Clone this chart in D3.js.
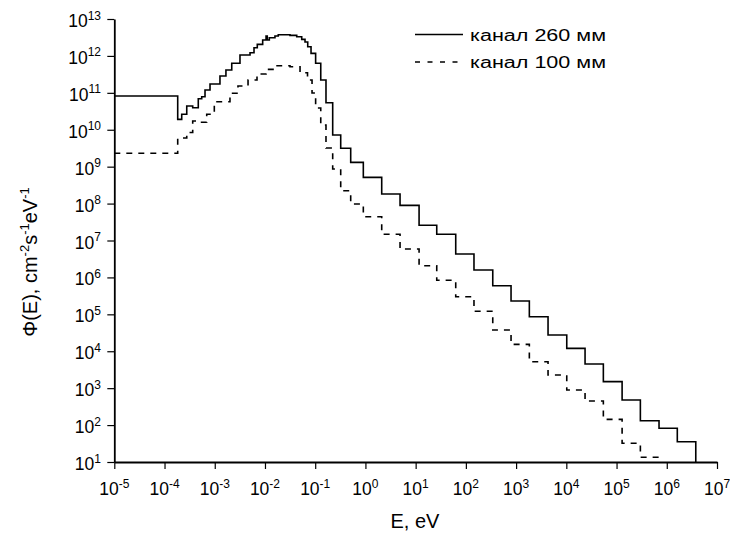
<!DOCTYPE html>
<html>
<head>
<meta charset="utf-8">
<script src="https://cdn.jsdelivr.net/npm/d3@7"></script>
<style>
  body { margin: 0; background: #fff; }
  svg  { display: block; font-family: "Liberation Sans", Arial, sans-serif; }
</style>
</head>
<body>
<svg id="chart" width="730" height="533"></svg>
<script>
/* ──────────────────────────────────────────────────────────────
 * DONNÉES — spectres par groupes (bornes en eV, flux par groupe)
 * ────────────────────────────────────────────────────────────── */
var EDGES_260 = [1e-5, 1.83e-4, 2.2e-4, 2.77e-4, 3.64e-4, 4.7e-4, 5.5e-4, 6.4e-4, 8.05e-4,
  1.27e-3, 1.67e-3, 2.18e-3, 3.18e-3, 5.04e-3, 6.05e-3, 7.03e-3, 9.0e-3, 1.05e-2, 1.11e-2,
  1.22e-2, 1.58e-2, 1.84e-2, 3.15e-2, 4.29e-2, 5.39e-2, 6.27e-2, 7.1e-2, 8.26e-2, 0.102,
  0.129, 0.164, 0.223, 0.322, 0.509, 0.908, 2.11, 4.89, 11.7, 26.3, 62.8, 145, 343, 793,
  1835, 4325, 1.02e4, 2.36e4, 5.46e4, 1.29e5, 2.98e5, 7.01e5, 1.62e6, 3.78e6];
var FLUX_260 = [8.2e10, 1.91e10, 2.62e10, 4.39e10, 3.95e10, 6.92e10, 7.84e10, 1.19e11,
  1.73e11, 2.85e11, 4.15e11, 6.3e11, 1.06e12, 1.22e12, 1.67e12, 2.06e12, 2.69e12, 3.45e12,
  2.69e12, 3.1e12, 3.45e12, 3.75e12, 3.61e12, 3.31e12, 2.81e12, 2.38e12, 1.77e12, 1.17e12,
  6.3e11, 2.22e11, 5.39e10, 7.2e9, 3.14e9, 1.31e9, 5.14e8, 1.82e8, 8.97e7, 2.58e7, 1.47e7,
  4.3e6, 1.59e6, 5.96e5, 2.3e5, 8.62e4, 2.75e4, 1.2e4, 4.51e3, 1.5e3, 478, 131, 81.8, 35.4];

var EDGES_100 = [1e-5, 1.83e-4, 2.77e-4, 3.64e-4, 5.09e-4, 6.92e-4, 9.8e-4, 2.01e-3, 2.9e-3,
  4.6e-3, 6.94e-3, 1.05e-2, 1.74e-2, 3.15e-2, 4.99e-2, 7.03e-2, 8.65e-2, 0.102, 0.129,
  0.164, 0.223, 0.322, 0.509, 0.908, 2.11, 4.89, 11.7, 26.3, 62.8, 145, 343, 793, 1835,
  4325, 1.02e4, 2.36e4, 5.46e4, 1.29e5, 2.98e5, 7.01e5];
var FLUX_100 = [2.3e9, 5.97e9, 8.4e9, 1.72e10, 1.59e10, 2.62e10, 5.74e10, 9.7e10, 1.53e11,
  2.22e11, 3.23e11, 4.33e11, 5.42e11, 5.09e11, 3.5e11, 2.22e11, 9.88e10, 3.87e10, 1.34e10,
  3.2e9, 8.63e8, 2.23e8, 9.73e7, 4.41e7, 1.47e7, 5.88e6, 2.07e6, 8.35e5, 3.0e5, 1.21e5,
  3.76e4, 1.54e4, 5.21e3, 2.27e3, 891, 449, 143, 32.1, 13.4];

var SERIES_NAMES = ['канал 260 мм', 'канал 100 мм'];
var X_EXPONENTS  = [-5, -4, -3, -2, -1, 0, 1, 2, 3, 4, 5, 6, 7];
var Y_EXPONENTS  = [1, 2, 3, 4, 5, 6, 7, 8, 9, 10, 11, 12, 13];
var X_TITLE      = 'E, eV';

(function () {
  'use strict';

  var svg = d3.select('#chart');
  svg.append('rect').attr('width', 730).attr('height', 533).attr('fill', '#fff');

  var x = d3.scaleLog().domain([1e-5, 1e7]).range([114.3, 717]);
  var y = d3.scaleLog().domain([10, 1e13]).range([462, 19]);

  /* ──────────────────────────────────────────────────────────────
   * AXES (graduations majeures + mineures, vers l'extérieur)
   * ────────────────────────────────────────────────────────────── */
  function pow10(e) { return Math.pow(10, e); }

  function minors(exps) {
    var out = [];
    exps.slice(0, -1).forEach(function (e) {
      for (var m = 2; m <= 9; m++) out.push(m * pow10(e));
    });
    return out;
  }

  var gx = svg.append('g').attr('transform', 'translate(0,462)');
  gx.call(d3.axisBottom(x).tickValues(minors(X_EXPONENTS)).tickSize(4).tickSizeOuter(0).tickFormat(''));
  gx.call(d3.axisBottom(x).tickValues(X_EXPONENTS.map(pow10)).tickSize(7).tickSizeOuter(0).tickFormat(''));

  var gy = svg.append('g').attr('transform', 'translate(114.3,0)');
  gy.call(d3.axisLeft(y).tickValues(minors(Y_EXPONENTS)).tickSize(4).tickSizeOuter(0).tickFormat(''));
  gy.call(d3.axisLeft(y).tickValues(Y_EXPONENTS.map(pow10)).tickSize(7).tickSizeOuter(0).tickFormat(''));

  svg.selectAll('.domain').attr('stroke', '#000').attr('stroke-width', 1.8);
  svg.selectAll('.tick line').attr('stroke', '#000').attr('stroke-width', 1.2);

  /* libellés 10^n */
  function powerLabel(sel, e) {
    sel.append('tspan').text('10');
    sel.append('tspan').attr('dy', -7.5).attr('font-size', 12).text(e);
  }

  X_EXPONENTS.forEach(function (e) {
    var t = svg.append('text')
      .attr('x', x(pow10(e))).attr('y', 495)
      .attr('text-anchor', 'middle').attr('font-size', 17.5);
    powerLabel(t, e);
  });

  Y_EXPONENTS.forEach(function (e) {
    var t = svg.append('text')
      .attr('x', 101).attr('y', y(pow10(e)) + 8)
      .attr('text-anchor', 'end').attr('font-size', 17.5);
    powerLabel(t, e);
  });

  /* titres */
  svg.append('text')
    .attr('x', 415).attr('y', 528)
    .attr('text-anchor', 'middle').attr('font-size', 20)
    .text(X_TITLE);

  var yt = svg.append('text')
    .attr('transform', 'translate(37,262) rotate(-90)')
    .attr('text-anchor', 'middle').attr('font-size', 20);
  [['Φ(E), cm', 0], ['-2', 1], ['s', 0], ['-1', 1], ['eV', 0], ['-1', 1]].forEach(function (p, i, arr) {
    var ts = yt.append('tspan').text(p[0]);
    if (p[1]) ts.attr('font-size', 13).attr('dy', -8);
    else if (i > 0 && arr[i - 1][1]) ts.attr('dy', 8);
  });

  /* ──────────────────────────────────────────────────────────────
   * COURBES EN ESCALIER
   * ────────────────────────────────────────────────────────────── */
  function stepPoints(edges, flux, dropToFloor) {
    var pts = [];
    flux.forEach(function (v, i) {
      pts.push([edges[i], v], [edges[i + 1], v]);
    });
    if (dropToFloor) pts.push([edges[edges.length - 1], y.domain()[0]]);
    return pts;
  }

  var line = d3.line()
    .x(function (d) { return x(d[0]); })
    .y(function (d) { return y(d[1]); });

  svg.append('path')
    .attr('d', line(stepPoints(EDGES_260, FLUX_260, true)))
    .attr('fill', 'none').attr('stroke', '#000').attr('stroke-width', 1.6);

  svg.append('path')
    .attr('d', line(stepPoints(EDGES_100, FLUX_100, false)))
    .attr('fill', 'none').attr('stroke', '#000').attr('stroke-width', 1.6)
    .attr('stroke-dasharray', '6,6');

  /* ──────────────────────────────────────────────────────────────
   * LÉGENDE
   * ────────────────────────────────────────────────────────────── */
  var legend = svg.append('g');
  SERIES_NAMES.forEach(function (name, i) {
    var ly = 34.5 + i * 27.5;
    legend.append('line')
      .attr('x1', 415).attr('x2', 463).attr('y1', ly).attr('y2', ly)
      .attr('stroke', '#000').attr('stroke-width', 1.6)
      .attr('stroke-dasharray', i ? '5,7.5' : null);
    legend.append('text')
      .attr('x', 470).attr('y', ly + 6)
      .attr('font-size', 16)
      .attr('textLength', 136).attr('lengthAdjust', 'spacingAndGlyphs')
      .text(name);
  });

})();
</script>
</body>
</html>
